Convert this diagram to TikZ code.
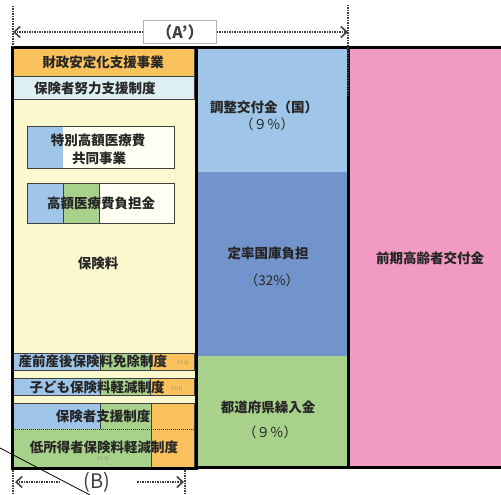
\documentclass[tikz,border=0pt]{standalone}
\usepackage{fontspec}
\newfontfamily\jp{Noto Sans CJK JP}
\usetikzlibrary{arrows.meta}
\definecolor{cOrange}{HTML}{F9C25C}
\definecolor{cCyan}{HTML}{DCEFF4}
\definecolor{cYellow}{HTML}{FCF8CE}
\definecolor{cPale}{HTML}{FFFEF2}
\definecolor{cLBlue}{HTML}{9FC5E9}
\definecolor{cDBlue}{HTML}{7293CB}
\definecolor{cGreen}{HTML}{A8D18B}
\definecolor{cPink}{HTML}{F19AC2}
\definecolor{cDot}{HTML}{404040}
\tikzset{
  lbl/.style={font=\jp\bfseries\fontsize{13.5}{15}\selectfont, text=black!85, inner sep=0pt},
  note/.style={font=\jp\fontsize{5}{6}\selectfont, text=black!50, inner sep=0pt},
  cell/.style={draw=black!75, line width=0.6pt},
  heavy/.style={draw=black, line width=3pt},
  dim/.style={draw=cDot, line width=2pt, dash pattern=on 1.5pt off 1pt},
  tipL/.style={-{Straight Barb[length=6pt,width=11pt,line width=1.6pt]}},
  big/.style={font=\jp\fontsize{17}{19}\selectfont, text=black!75, inner sep=0pt}
}
\begin{document}
\begin{tikzpicture}[x=1pt,y=-1pt]
\useasboundingbox (0,0) rectangle (501,495);
% left column background
\fill[cYellow] (12,48) rectangle (196,468);
% top rows
\fill[cOrange] (13,48) rectangle (194,76);
\draw[cell] (13,48) rectangle (194,76);
\fill[cCyan] (13,76) rectangle (194,99);
\draw[cell] (13,76) rectangle (194,99);
% tokubetsu box
\fill[cPale] (27,126) rectangle (174,168);
\fill[cLBlue] (27,126) rectangle (63,168);
\draw[cell] (27,126) rectangle (174,168);
% kougaku box
\fill[cPale] (27,183) rectangle (174,223);
\fill[cLBlue] (27,183) rectangle (63,223);
\fill[cGreen] (63,183) rectangle (99,223);
\draw[cell] (63,183) -- (63,223) (99,183) -- (99,223);
\draw[cell] (27,183) rectangle (174,223);
% sanzen row
\fill[cLBlue] (13,353) rectangle (100,370);
\fill[cGreen] (100,353) rectangle (150,370);
\fill[cOrange] (150,353) rectangle (194,370);
\draw[cell] (100,353) -- (100,370) (150,353) -- (150,370);
\draw[cell] (13,353) rectangle (194,370);
% kodomo row
\fill[cLBlue] (13,378) rectangle (100,395);
\fill[cGreen] (100,378) rectangle (150,395);
\fill[cOrange] (150,378) rectangle (194,395);
\draw[cell] (100,378) -- (100,395) (150,378) -- (150,395);
\draw[cell] (13,378) rectangle (194,395);
% hokensha shien + teishotoku
\fill[cLBlue] (13,403) rectangle (100,429);
\fill[cGreen] (100,403) rectangle (151,429);
\fill[cGreen] (13,429) rectangle (151,467);
\fill[cOrange] (151,403) rectangle (194,467);
\draw[cell] (100,403) -- (100,429) (151,403) -- (151,467);
\draw[cell] (13,403) rectangle (194,467);
\draw[black!80, line width=0.9pt, dash pattern=on 1pt off 1pt] (13,429) -- (194,429);
% middle column
\fill[cLBlue] (197,48) rectangle (348,172);
\fill[cDBlue] (197,172) rectangle (348,356);
\fill[cGreen] (197,356) rectangle (348,467);
% right column
\fill[cPink] (348,48) rectangle (501,467);
% heavy borders
\draw[heavy] (12,48) rectangle (196,468);
\draw[heavy] (196,48) -- (501,48);
\draw[heavy] (196,467) -- (501,467);
\draw[heavy] (348,48) -- (348,467);
% labels
\node[lbl] (zaisei) at (103,62) {財政安定化支援事業};
\node[lbl] (doryoku) at (95,88) {保険者努力支援制度};
\node[lbl] (toku1) at (98,140) {特別高額医療費};
\node[lbl] (toku2) at (99,158) {共同事業};
\node[lbl] (kougaku) at (101,203) {高額医療費負担金};
\node[lbl] (hokenryo) at (98,263) {保険料};
\node[lbl] (sanzen) at (93,361) {産前産後保険料免除制度};
\node[note] (n1) at (183,363) {(※1)};
\node[lbl] (kodomo) at (97,387) {子ども保険料軽減制度};
\node[note] (n2) at (177,389) {(※1)};
\node[lbl] (shien) at (103,416) {保険者支援制度};
\node[lbl] (teisho) at (104,447) {低所得者保険料軽減制度};
\node[note] (n3) at (103,459) {(※1)};
\node[lbl] (chosei) at (264,107) {調整交付金（国）};
\node[lbl, font=\jp\fontsize{13.5}{15}\selectfont] (chosei2) at (267,124) {（９％）};
\node[lbl] (teiritsu) at (268,253) {定率国庫負担};
\node[lbl, font=\jp\fontsize{13.5}{15}\selectfont] (teiritsu2) at (272,280) {（32\%）};
\node[lbl] (zenki) at (430,258) {前期高齢者交付金};
\node[lbl] (todofuken) at (268,407) {都道府県繰入金};
\node[lbl, font=\jp\fontsize{13.5}{15}\selectfont] (todofuken2) at (270,432) {（９％）};
% A' dimension
\node[big, font=\jp\bfseries\fontsize{16}{18}\selectfont, draw=black!30, line width=0.6pt, fill=white, minimum width=73pt, minimum height=23pt] (Ap) at (180,32) {（A’）};
\coordinate (aL) at (13,32);
\coordinate (aR) at (348,32);
\draw[dim] (13,6) -- (13,48);
\draw[dim] (348,5) -- (348,96);
\draw[dim, tipL] (Ap.west) -- (aL);
\draw[dim, tipL] (Ap.east) -- (aR);
% B dimension
\node[big, font=\jp\fontsize{20}{22}\selectfont] (B) at (97,482) {(B)};
\coordinate (bL) at (15,482);
\coordinate (bR) at (184,482);
\coordinate (bLs) at (60,482);
\coordinate (bRs) at (137,482);
\draw[dim] (13,470) -- (13,495);
\draw[dim] (185,470) -- (185,495);
\draw[dim, tipL] (bLs) -- (bL);
\draw[dim, tipL] (bRs) -- (bR);
% diagonal line
\coordinate (d1) at (0,448);
\coordinate (d2) at (90,495);
\draw[black, line width=0.8pt] (d1) -- (d2);
\end{tikzpicture}
\end{document}
